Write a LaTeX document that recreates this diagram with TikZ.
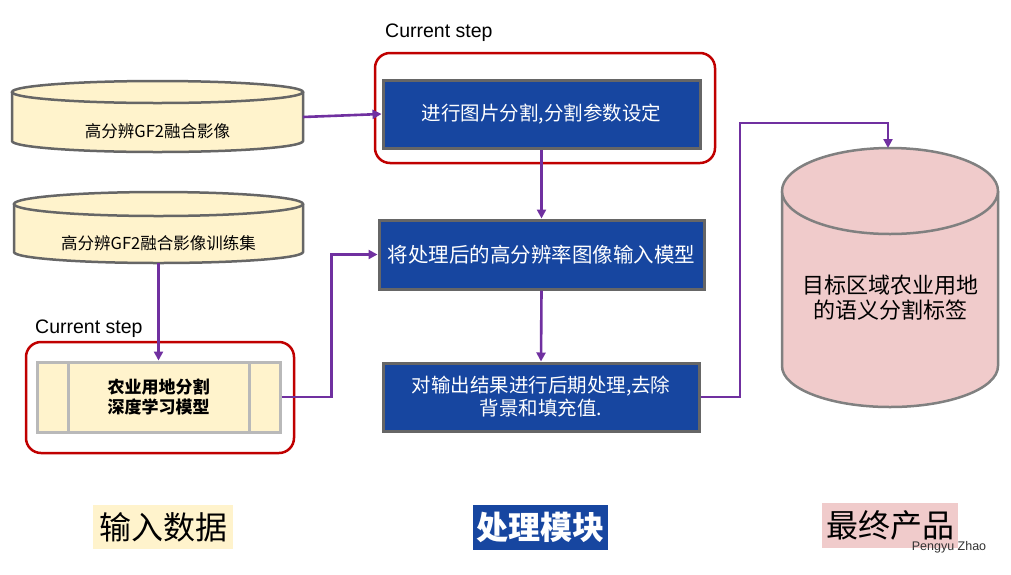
\documentclass[tikz,border=0pt]{standalone}
\usepackage{fontspec}
\setmainfont{Liberation Sans}
\newfontfamily\cjk{Noto Sans CJK SC}
\usetikzlibrary{arrows.meta}
\definecolor{cream}{HTML}{FFF3CC}
\definecolor{bluefill}{HTML}{1746A0}
\definecolor{pinkfill}{HTML}{F0CBCB}
\definecolor{conncol}{HTML}{7030A0}
\definecolor{redline}{HTML}{C00000}
\definecolor{cylborder}{HTML}{666666}
\tikzset{
  bluebox/.style={draw=cylborder, line width=3pt, fill=bluefill, text=white, inner sep=0pt, align=center},
  redframe/.style={draw=redline, line width=2.5pt, rounded corners=15pt, inner sep=0pt},
  conn/.style={draw=conncol, line width=2.6pt, -{Triangle[length=9pt,width=9pt]}},
  cyl/.style={draw=cylborder, line width=2.5pt},
  lbl/.style={inner sep=0pt, align=center},
}
\begin{document}
\begin{tikzpicture}[x=1pt,y=-1pt]
\useasboundingbox (0,0) rectangle (1011,574);
\fill[white] (0,0) rectangle (1011,574);

% red frames
\node[redframe, minimum width=340pt, minimum height=110pt] (r1) at (545,108) {};
\node[redframe, minimum width=268pt, minimum height=111pt] (r2) at (160,397.5) {};
\node[lbl, anchor=west, font=\fontsize{19.5}{22}\selectfont] (cs1) at (385,33) {Current step};
\node[lbl, anchor=west, font=\fontsize{19.5}{22}\selectfont] (cs2) at (35,329) {Current step};

% cylinder 1
\path[fill=cream] (12,92) -- (12,141) arc[start angle=180, end angle=360, x radius=145.5pt, y radius=11pt] -- (303,92) arc[start angle=0, end angle=180, x radius=145.5pt, y radius=11pt] -- cycle;
\draw[cyl] (12,92) -- (12,141) arc[start angle=180, end angle=360, x radius=145.5pt, y radius=11pt] -- (303,92);
\draw[cyl, fill=cream] (157.5,92) ellipse [x radius=145.5pt, y radius=11pt];
\node[lbl, font=\cjk\fontsize{16.5}{19}\selectfont] (c1) at (157.5,131) {高分辨GF2融合影像};
\coordinate (c1e) at (303,117);

% cylinder 2
\path[fill=cream] (14,204) -- (14,252) arc[start angle=180, end angle=360, x radius=144.5pt, y radius=11pt] -- (303,204) arc[start angle=0, end angle=180, x radius=144.5pt, y radius=12pt] -- cycle;
\draw[cyl] (14,204) -- (14,252) arc[start angle=180, end angle=360, x radius=144.5pt, y radius=11pt] -- (303,204);
\draw[cyl, fill=cream] (158.5,204) ellipse [x radius=144.5pt, y radius=12pt];
\node[lbl, font=\cjk\fontsize{16.5}{19}\selectfont] (c2) at (158.5,243) {高分辨GF2融合影像训练集};
\coordinate (c2s) at (158.5,263);

% model box
\node[draw=gray!55, line width=3pt, fill=cream, minimum width=243pt, minimum height=70pt, inner sep=0pt] (m) at (158.5,397) {};
\draw[gray!55, line width=3pt] (68,362) -- (68,432) (249,362) -- (249,432);
\node[lbl, font=\cjk\bfseries\fontsize{17}{20}\selectfont] (mt) at (158.5,397) {农业用地分割\\深度学习模型};

% blue boxes
\node[bluebox, minimum width=317pt, minimum height=68pt, font=\cjk\fontsize{19.5}{22}\selectfont] (b1) at (541.5,114) {进行图片分割,分割参数设定};
\node[bluebox, minimum width=325pt, minimum height=69pt, font=\cjk\fontsize{20.5}{24}\selectfont] (b2) at (541.5,254.5) {将处理后的高分辨率图像输入模型};
\node[bluebox, minimum width=316pt, minimum height=68pt, font=\cjk\fontsize{19.5}{23}\selectfont] (b3) at (541,397) {对输出结果进行后期处理,去除\\背景和填充值.};

% cylinder 3
\path[fill=pinkfill] (782,191) -- (782,366) arc[start angle=180, end angle=360, x radius=108pt, y radius=41pt] -- (998,191) arc[start angle=0, end angle=180, x radius=108pt, y radius=43pt] -- cycle;
\draw[cyl, draw=gray] (782,191) -- (782,366) arc[start angle=180, end angle=360, x radius=108pt, y radius=41pt] -- (998,191);
\draw[cyl, draw=gray, fill=pinkfill] (890,191) ellipse [x radius=108pt, y radius=43pt];
\node[lbl, font=\cjk\fontsize{22}{25}\selectfont] (c3) at (890,298) {目标区域农业用地\\的语义分割标签};
\coordinate (c3top) at (888,148);
\coordinate (k1) at (740,123);

% connectors
\draw[conn] (c1e) -- (b1.west);
\draw[conn] (b1.south) -- (b2.north);
\draw[conn] (b2.south) -- (b3.north);
\draw[conn] (c2s) -- (m.north);
\draw[conn] (m.east) -- ++(50,0) |- (b2.west);
\draw[conn] (b3.east) -| (k1) -| (c3top);

% bottom labels
\node[lbl, fill=cream, minimum width=140pt, minimum height=44pt, font=\cjk\fontsize{32}{36}\selectfont] (l1) at (163,527) {输入数据};
\node[lbl, fill=bluefill, text=white, minimum width=135pt, minimum height=45pt, font=\cjk\bfseries\fontsize{32}{36}\selectfont] (l2) at (540.5,527.5) {处理模块};
\node[lbl, fill=pinkfill, minimum width=136pt, minimum height=45pt, font=\cjk\fontsize{32}{36}\selectfont] (l3) at (890,525.5) {最终产品};
\node[lbl, text=black!80, font=\fontsize{12.5}{14}\selectfont] (pz) at (949,547) {Pengyu Zhao};
\end{tikzpicture}
\end{document}
